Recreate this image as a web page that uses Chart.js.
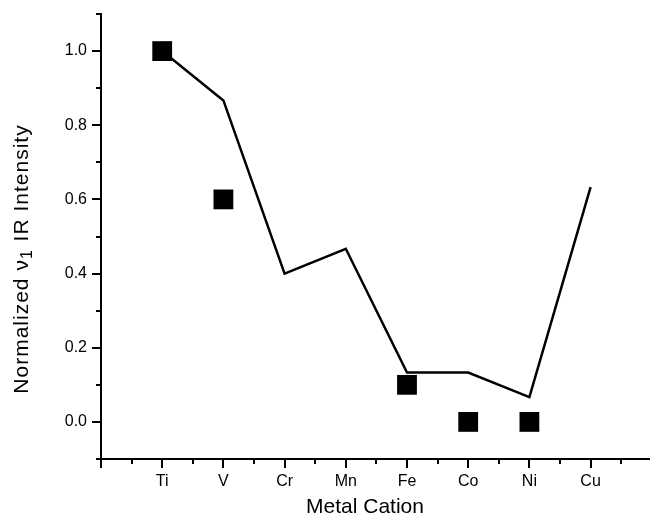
<!DOCTYPE html>
<html>
<head>
<meta charset="utf-8">
<script src="https://cdn.jsdelivr.net/npm/chart.js@4/dist/chart.umd.min.js"></script>
<style>
  html, body { margin: 0; padding: 0; background: #fff; overflow: hidden; }
  #wrap { width: 660px; height: 516px; }
</style>
</head>
<body>
<div id="wrap"><canvas id="c" width="660" height="516"></canvas></div>
<script>
// ---- data ----
const categories = ['Ti', 'V', 'Cr', 'Mn', 'Fe', 'Co', 'Ni', 'Cu'];
const lineValues = [1.0, 0.867, 0.40, 0.467, 0.133, 0.133, 0.067, 0.633];
const squareValues = [1.0, 0.60, null, null, 0.10, 0.0, 0.0, null];
const yMajorTicks = [0.0, 0.2, 0.4, 0.6, 0.8, 1.0];
const yMinorTicks = [-0.1, 0.1, 0.3, 0.5, 0.7, 0.9, 1.1];
const xMajorTicks = [-1, 0, 1, 2, 3, 4, 5, 6, 7, 8];
const xMinorTicks = [-0.5, 0.5, 1.5, 2.5, 3.5, 4.5, 5.5, 6.5, 7.5];
const xTitle = 'Metal Cation';
const yTitleParts = ['Normalized \u03bd', '1', ' IR Intensity'];

const FONT = '"Liberation Sans", Arial, Helvetica, sans-serif';

const lineData = categories.map((c, i) => ({ x: i, y: lineValues[i] }));
const squareData = categories
  .map((c, i) => ({ x: i, y: squareValues[i] }))
  .filter(p => p.y !== null);

const extrasPlugin = {
  id: 'extras',
  afterDraw(chart) {
    const ctx = chart.ctx;
    const xs = chart.scales.x, ys = chart.scales.y;
    const area = chart.chartArea;
    ctx.save();
    ctx.strokeStyle = '#000';
    ctx.lineWidth = 2;
    // minor ticks
    ctx.beginPath();
    yMinorTicks.forEach(v => {
      const py = Math.round(ys.getPixelForValue(v));
      ctx.moveTo(area.left - 5, py);
      ctx.lineTo(area.left, py);
    });
    xMinorTicks.forEach(v => {
      const px = Math.round(xs.getPixelForValue(v));
      ctx.moveTo(px, area.bottom);
      ctx.lineTo(px, area.bottom + 5);
    });
    ctx.stroke();

    // axis titles
    ctx.fillStyle = '#000';
    ctx.textBaseline = 'middle';
    ctx.textAlign = 'center';
    ctx.font = '21px ' + FONT;
    ctx.fillText(xTitle, 365, 507);

    // y title with subscript
    const mainFont = '21px ' + FONT;
    const subFont = '16px ' + FONT;
    ctx.letterSpacing = '1px';
    ctx.font = mainFont;
    const w0 = ctx.measureText(yTitleParts[0]).width;
    const w2 = ctx.measureText(yTitleParts[2]).width;
    ctx.font = subFont;
    const w1 = ctx.measureText(yTitleParts[1]).width + 1;
    const total = w0 + w1 + w2;
    ctx.translate(22, 259);
    ctx.rotate(-Math.PI / 2);
    ctx.textAlign = 'left';
    let xpos = -total / 2;
    ctx.font = mainFont;
    ctx.fillText(yTitleParts[0], xpos, 0);
    xpos += w0;
    ctx.font = subFont;
    ctx.fillText(yTitleParts[1], xpos, 6);
    xpos += w1;
    ctx.font = mainFont;
    ctx.fillText(yTitleParts[2], xpos, 0);
    ctx.restore();
  }
};

new Chart(document.getElementById('c'), {
  type: 'line',
  data: {
    datasets: [
      {
        label: 'experiment',
        data: squareData,
        showLine: false,
        pointStyle: 'rect',
        pointRadius: 14,
        pointHoverRadius: 14,
        pointBackgroundColor: '#000',
        pointBorderColor: '#000',
        pointBorderWidth: 0,
        clip: false,
        order: 0
      },
      {
        label: 'calculated',
        data: lineData,
        borderColor: '#000',
        borderWidth: 2.5,
        pointRadius: 0,
        pointHoverRadius: 0,
        fill: false,
        tension: 0,
        order: 1
      }
    ]
  },
  options: {
    responsive: false,
    animation: false,
    devicePixelRatio: 1,
    layout: { autoPadding: false, padding: { top: 14, right: 8.2, left: 0, bottom: 0 } },
    plugins: {
      legend: { display: false },
      tooltip: { enabled: false },
      title: { display: false }
    },
    scales: {
      x: {
        type: 'linear',
        position: 'bottom',
        min: -1,
        max: 8,
        afterBuildTicks: s => { s.ticks = xMajorTicks.map(v => ({ value: v })); },
        afterFit: s => { s.height = 57; s.paddingLeft = 0; s.paddingRight = 0; },
        border: { display: true, color: '#000', width: 2 },
        grid: { drawOnChartArea: false, drawTicks: true, tickLength: 9, color: '#000', lineWidth: 2 },
        ticks: {
          autoSkip: false,
          maxRotation: 0,
          padding: 4,
          color: '#000',
          font: { family: FONT, size: 16 },
          callback: v => (categories[v] !== undefined ? categories[v] : '')
        },
        title: { display: false }
      },
      y: {
        type: 'linear',
        position: 'left',
        min: -0.1,
        max: 1.1,
        afterBuildTicks: s => { s.ticks = yMajorTicks.map(v => ({ value: v })); },
        afterFit: s => { s.width = 101; s.paddingTop = 0; s.paddingBottom = 0; },
        border: { display: true, color: '#000', width: 2 },
        grid: { drawOnChartArea: false, drawTicks: true, tickLength: 9, color: '#000', lineWidth: 2 },
        ticks: {
          padding: 5,
          color: '#000',
          font: { family: FONT, size: 16 },
          callback: v => Number(v).toFixed(1)
        },
        title: { display: false }
      }
    }
  },
  plugins: [extrasPlugin]
});
</script>
</body>
</html>
